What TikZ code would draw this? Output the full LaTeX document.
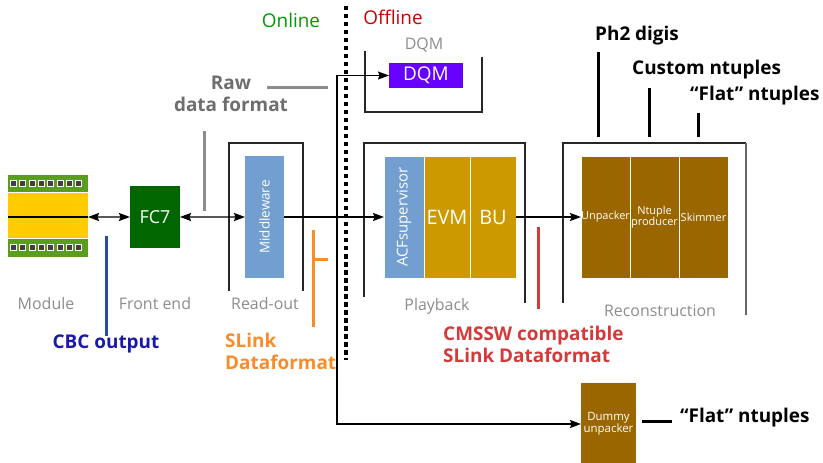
\documentclass[tikz,border=0pt]{standalone}
\usepackage{fontspec}
\setmainfont{Open Sans}
\usetikzlibrary{arrows.meta,calc}

\definecolor{modgreen}{HTML}{5A9E1E}
\definecolor{modyellow}{HTML}{FFCC00}
\definecolor{fcgreen}{HTML}{006600}
\definecolor{skyblue}{HTML}{729FCF}
\definecolor{dqmpurple}{HTML}{6600FF}
\definecolor{gold}{HTML}{CC9900}
\definecolor{brown}{HTML}{996600}
\definecolor{labelgrey}{HTML}{8C8C8C}
\definecolor{rawgrey}{HTML}{6E6E6E}
\definecolor{slinkorange}{HTML}{F98C2A}
\definecolor{cmsred}{HTML}{D43A3A}
\definecolor{offred}{HTML}{CC0000}
\definecolor{ongreen}{HTML}{009900}
\definecolor{cbcblue}{HTML}{1A1AAA}
\definecolor{cbcbar}{HTML}{2B4C9A}

\tikzset{
  fs/.style={font=\fontsize{#1}{#1}\selectfont},
  block/.style={anchor=north west, inner sep=0pt, outer sep=0pt, text=white,
    align=center, draw=white, line width=0.8bp},
  stage/.style={draw=black!85, line width=1.1bp},
  stagelabel/.style={text=labelgrey, fs=16},
  arr/.style={line width=1.4bp, -{Stealth[length=11bp,width=8bp,inset=1.5bp]}},
  darr/.style={line width=1.4bp, {Stealth[length=11bp,width=8bp,inset=1.5bp]}-{Stealth[length=11bp,width=8bp,inset=1.5bp]}},
  tag/.style={font=\fontsize{19}{22}\selectfont\bfseries, align=left, inner sep=0pt},
  tagbar/.style={line width=3bp},
  chip/.style={fill=black!75, draw=white, line width=0.7bp},
}

\begin{document}
\begin{tikzpicture}[x=1bp,y=-1bp]
\useasboundingbox (0,0) rectangle (823,463);

% ---- detector module ----
\fill[modgreen] (8,175) rectangle (88,192);
\fill[modyellow] (8,193) rectangle (88,238);
\fill[modgreen] (8,239) rectangle (88,257);
\foreach \i in {0,...,7} {
  \draw[chip] ({10.5+9.3*\i},180.5) rectangle ++(6,6);
  \draw[chip] ({10.5+9.3*\i},244.5) rectangle ++(6,6);
}
\node[inner sep=0pt, outer sep=0pt, minimum width=80bp, minimum height=82bp, anchor=north west] (module) at (8,175) {};
\draw[line width=1.1bp] (8,217) -- (88,217);
\node[stagelabel] (modlbl) at (46,304) {Module};

% ---- front end ----
\node[block, fill=fcgreen, draw=none, minimum width=50bp, minimum height=62bp, fs=18] (fc7) at (130,186) {FC7};
\node[stagelabel] (felbl) at (155,304) {Front end};
\draw[darr] (module.east |- 0,217) -- (fc7.west);

% ---- read-out ----
\draw[stage] (229,291) |- (303,143) -- (303,291);
\node[block, fill=skyblue, draw=none, minimum width=39bp, minimum height=122bp] (mw) at (245,156) {};
\node[rotate=90, text=white, fs=13.5] at (mw.center) {Middleware};
\node[stagelabel] (rolbl) at (265,304) {Read-out};
\draw[darr] (fc7.east) -- (mw.west);

% ---- raw data format ----
\node[tag, text=rawgrey, align=center] (raw) at (231,94) {Raw\\[0bp]data format};
\draw[tagbar, draw=labelgrey] (204,131) -- (204,211);
\draw[tagbar, draw=labelgrey] (267,88) -- (328,88);

% ---- online / offline split ----
\draw[line width=3.2bp, dash pattern=on 4.5bp off 3.5bp] (346,6) -- (346,360);
\node[text=ongreen, fs=19] (online) at (291,20) {Online};
\node[text=offred, fs=19] (offline) at (393,17) {Offline};

% ---- DQM ----
\draw[stage] (365,51) |- (482,112) -- (482,57);
\node[stagelabel] (dqmlbl) at (424,45) {DQM};
\node[block, fill=dqmpurple, draw=none, minimum width=74bp, minimum height=25bp, fs=19] (dqm) at (389,63) {DQM};

% ---- playback ----
\draw[stage] (364,297) |- (525,143) -- (525,303);
\node[block, fill=skyblue, minimum width=40bp, minimum height=122bp] (acf) at (384,156) {};
\node[rotate=90, text=white, fs=15] at (acf.center) {ACFsupervisor};
\node[block, fill=gold, minimum width=46bp, minimum height=122bp, fs=20] (evm) at (424,156) {EVM};
\node[block, fill=gold, minimum width=46bp, minimum height=122bp, fs=20] (bu) at (470,156) {BU};
\node[stagelabel] (pblbl) at (437,306) {Playback};

% ---- reconstruction ----
\draw[stage] (563,303) |- (746,143);
\draw[line width=1.1bp, draw=black!60] (746,143) -- (746,315);
\node[block, fill=brown, minimum width=49bp, minimum height=122bp, fs=11] (unp) at (581,156) {Unpacker};
\node[block, fill=brown, minimum width=49bp, minimum height=122bp, fs=11] (ntp) at (630,156) {Ntuple\\producer};
\node[block, fill=brown, minimum width=49bp, minimum height=122bp, fs=11] (skim) at (679,156) {Skimmer};
\node[stagelabel] (rclbl) at (660,311) {Reconstruction};

% ---- dummy unpacker ----
\node[block, fill=brown, draw=none, minimum width=55bp, minimum height=82bp, fs=11.5] (dummy) at (581,383) {Dummy\\unpacker};

% ---- data flow ----
\coordinate (split) at (337,217);
\draw[arr] (mw.east) -- (acf.west);
\draw[arr] (split) |- (dqm.west);
\draw[arr] (split) |- (dummy.west);
\draw[arr] (bu.east) -- (unp.west);

% ---- output formats ----
\draw[tagbar] (598,52) -- (598,137);
\draw[tagbar] (649,88) -- (649,137);
\draw[tagbar] (698,113) -- (698,137);
\node[tag, anchor=west] (ph2) at (595,36) {Ph2 digis};
\node[tag, anchor=west] (custom) at (632,70) {Custom ntuples};
\node[tag, anchor=west] (flat) at (690,96) {“Flat” ntuples};
\draw[tagbar] (642,421) -- (672,421);
\node[tag, anchor=west] (flat2) at (680,418) {“Flat” ntuples};

% ---- data-format tags ----
\draw[tagbar, draw=cbcbar] (106,236) -- (106,336);
\node[tag, text=cbcblue] (cbc) at (106,344) {CBC output};
\draw[tagbar, draw=slinkorange] (313,230) -- (313,327);
\draw[tagbar, draw=slinkorange] (313,260) -- (328,260);
\node[tag, text=slinkorange, anchor=west] (slink) at (225,351) {SLink\\[0bp]Dataformat};
\draw[tagbar, draw=cmsred] (538,227) -- (538,309);
\node[tag, text=cmsred, anchor=west] (cms) at (443,344) {CMSSW compatible\\[0bp]SLink Dataformat};

\end{tikzpicture}
\end{document}
